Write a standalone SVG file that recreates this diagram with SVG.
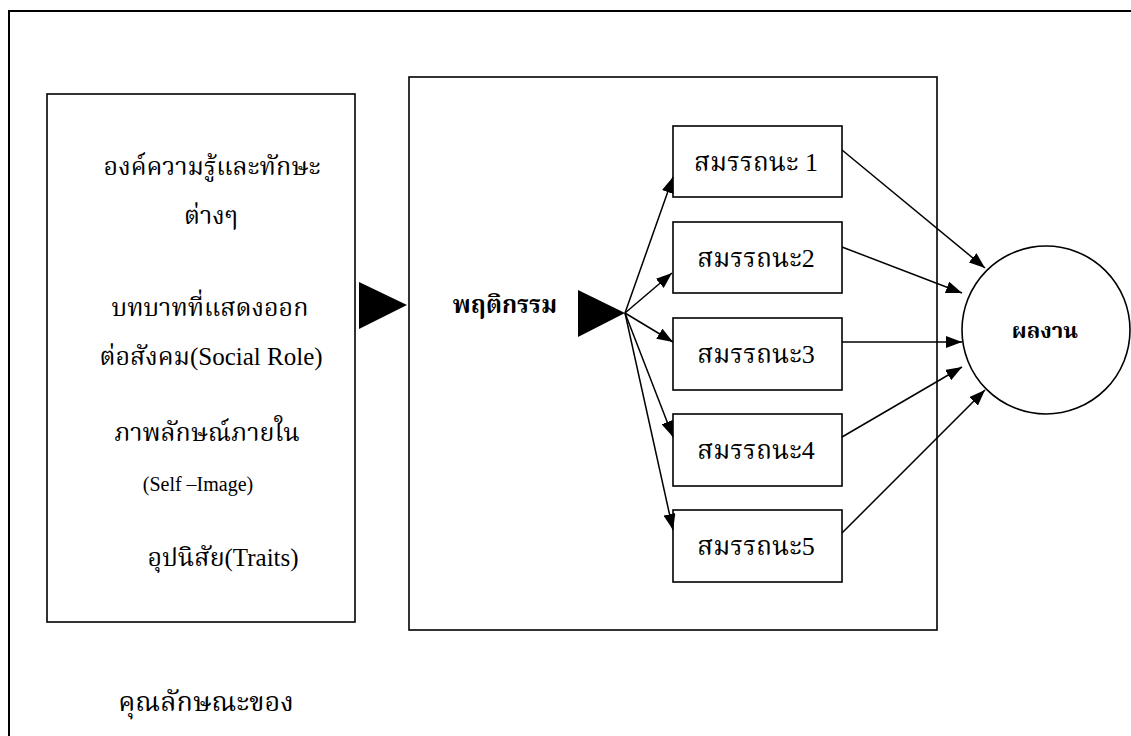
<svg xmlns="http://www.w3.org/2000/svg" width="1131" height="736" viewBox="0 0 1131 736">
<style>
  .frame { fill: none; stroke: #000; stroke-width: 2; }
  .box { fill: #fff; stroke: #000; stroke-width: 1.6; }
  .t { font-family: "Liberation Serif", "Noto Serif Thai", "Noto Sans Thai", "DejaVu Serif", serif; font-size: 25px; fill: #000; text-anchor: middle; }
  .c { font-size: 26px; }
  .b { font-weight: bold; }
  .conn { stroke: #000; stroke-width: 1.5; fill: none; marker-end: url(#ah); }
  .big { fill: #000; }
</style>
<defs>
  <marker id="ah" viewBox="0 0 16 12" refX="16" refY="6" markerWidth="16" markerHeight="12" markerUnits="userSpaceOnUse" orient="auto">
    <path d="M0,0 L16,6 L0,12 Z" fill="#000"/>
  </marker>
</defs>

<g id="frame">
  <path class="frame" d="M9,736 L9,11 L1131,11"/>
</g>

<g id="traits-box">
  <rect class="box" x="47" y="94" width="308" height="528"/>
  <text class="t" x="212" y="175">องค์ความรู้และทักษะ</text>
  <text class="t" x="211" y="224">ต่างๆ</text>
  <text class="t" x="210" y="316">บทบาทที่แสดงออก</text>
  <text class="t" x="211" y="365">ต่อสังคม(Social Role)</text>
  <text class="t" x="207" y="441">ภาพลักษณ์ภายใน</text>
  <text class="t" x="198" y="491" style="font-size:20px">(Self –Image)</text>
  <text class="t" x="223" y="566">อุปนิสัย(Traits)</text>
</g>

<g id="caption">
  <text class="t" x="206" y="711" style="font-size:27px">คุณลักษณะของ</text>
</g>

<g id="behavior-box">
  <rect class="box" x="409" y="77" width="528" height="553"/>
  <text class="t b" x="505" y="313" style="font-size:24px">พฤติกรรม</text>
</g>

<g id="comp1"><rect class="box" x="673" y="126" width="169" height="71"/><text class="t c" x="756" y="171">สมรรถนะ 1</text></g>
<g id="comp2"><rect class="box" x="673" y="222" width="169" height="71"/><text class="t c" x="756" y="267">สมรรถนะ2</text></g>
<g id="comp3"><rect class="box" x="673" y="318" width="169" height="72"/><text class="t c" x="756" y="363">สมรรถนะ3</text></g>
<g id="comp4"><rect class="box" x="673" y="414" width="169" height="72"/><text class="t c" x="756" y="459">สมรรถนะ4</text></g>
<g id="comp5"><rect class="box" x="673" y="510" width="169" height="72"/><text class="t c" x="756" y="555">สมรรถนะ5</text></g>

<g id="result">
  <circle cx="1046" cy="330" r="84" fill="#fff" stroke="#000" stroke-width="1.6"/>
  <text class="t b" x="1045" y="338" style="font-size:22px">ผลงาน</text>
</g>

<g id="connectors">
  <path class="big" d="M359,282 L407,305 L359,329 Z"/>
  <path class="big" d="M578,290 L625,313 L578,337 Z"/>
  <line class="conn" x1="625" y1="313" x2="673" y2="177"/>
  <line class="conn" x1="625" y1="313" x2="672" y2="273"/>
  <line class="conn" x1="625" y1="313" x2="673" y2="342"/>
  <line class="conn" x1="625" y1="313" x2="673" y2="437"/>
  <line class="conn" x1="625" y1="313" x2="673" y2="530"/>
  <line class="conn" x1="842" y1="150" x2="985" y2="268"/>
  <line class="conn" x1="842" y1="247" x2="962" y2="293"/>
  <line class="conn" x1="842" y1="342" x2="962" y2="342"/>
  <line class="conn" x1="842" y1="437" x2="962" y2="367"/>
  <line class="conn" x1="842" y1="533" x2="985" y2="390"/>
</g>
</svg>
